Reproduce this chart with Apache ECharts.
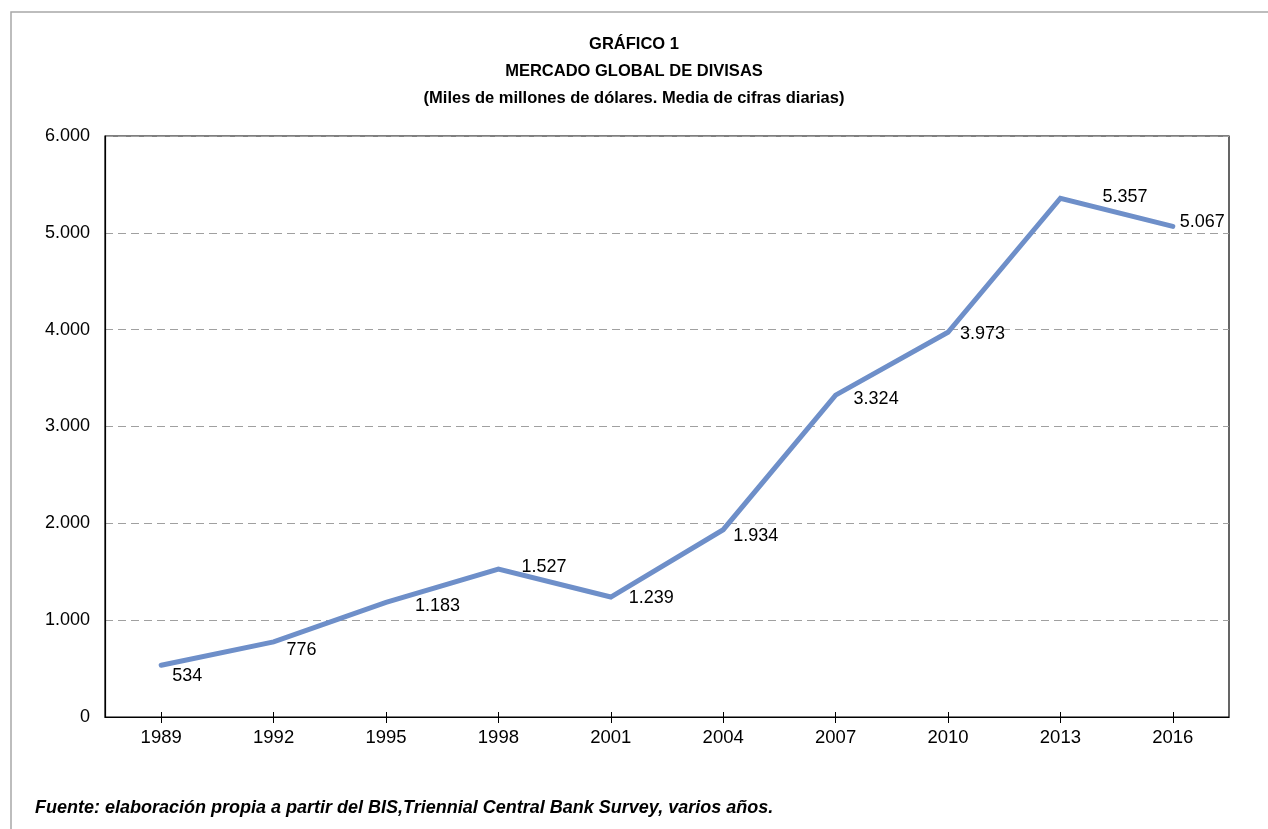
<!DOCTYPE html>
<html>
<head>
<meta charset="utf-8">
<script src="https://cdn.jsdelivr.net/npm/echarts@6/dist/echarts.min.js"></script>
<style>
  html, body { margin: 0; padding: 0; background: #fff; }
  #chart { width: 1268px; height: 829px; }
</style>
</head>
<body>
<div id="chart"></div>
<script>
// Survey years and average daily turnover (miles de millones de dólares)
const years = ['1989', '1992', '1995', '1998', '2001', '2004', '2007', '2010', '2013', '2016'];
const turnover = [534, 776, 1183, 1527, 1239, 1934, 3324, 3973, 5357, 5067];
const yTicks = [0, 1000, 2000, 3000, 4000, 5000, 6000];

// Where each value label starts, relative to its point (left edge, vertical middle)
const labelNudge = [[11, 11], [13, 8], [29, 4], [23, -2], [18, 1], [10, 6], [18, 4], [12, 2], [42, -1], [7, -4]];

const FONT = '"Liberation Sans", Arial, Helvetica, sans-serif';
const fmt = v => String(v).replace(/\B(?=(\d{3})+(?!\d))/g, '.');
const SYM = 2;

const chart = echarts.init(document.getElementById('chart'), null, { renderer: 'canvas' });

chart.setOption({
  animation: false,
  backgroundColor: '#fff',
  textStyle: { fontFamily: FONT, color: '#000' },
  graphic: [
    {
      type: 'rect',
      shape: { x: 11, y: 12, width: 1400, height: 1000 },
      style: { fill: 'none', stroke: '#a8a8a8', lineWidth: 1.5 },
      silent: true, z: -1
    },
    {
      type: 'text', left: 'center', top: 36,
      style: { text: 'GRÁFICO 1', font: 'bold 16.5px ' + FONT, fill: '#000' }
    },
    {
      type: 'text', left: 'center', top: 63,
      style: { text: 'MERCADO GLOBAL DE DIVISAS', font: 'bold 16.5px ' + FONT, fill: '#000' }
    },
    {
      type: 'text', left: 'center', top: 90,
      style: { text: '(Miles de millones de dólares. Media de cifras diarias)', font: 'bold 16.5px ' + FONT, fill: '#000' }
    },
    {
      type: 'text', left: 35, top: 799,
      style: { text: 'Fuente: elaboración propia a partir del BIS,Triennial Central Bank Survey, varios años.', font: 'italic bold 18px ' + FONT, fill: '#000' }
    }
  ],
  grid: {
    left: 105, right: 39, top: 136, bottom: 112,
    show: true, borderColor: '#000', borderWidth: 1.2, backgroundColor: 'transparent'
  },
  xAxis: [
    {
      type: 'category',
      data: years,
      boundaryGap: true,
      axisLine: { show: true, lineStyle: { color: '#000', width: 1.2 } },
      axisTick: { show: true, alignWithLabel: true, length: 6, lineStyle: { color: '#000', width: 1 } },
      axisLabel: { fontSize: 18.5, color: '#000', margin: 11, fontFamily: FONT },
      splitLine: { show: false }
    },
    {
      // inner half of the cross ticks
      type: 'category',
      data: years,
      position: 'bottom',
      boundaryGap: true,
      axisLine: { show: false },
      axisTick: { show: true, inside: true, alignWithLabel: true, length: 5, lineStyle: { color: '#000', width: 1 } },
      axisLabel: { show: false },
      splitLine: { show: false }
    }
  ],
  yAxis: {
    type: 'value',
    min: yTicks[0],
    max: yTicks[yTicks.length - 1],
    interval: 1000,
    axisLine: { show: true, lineStyle: { color: '#000', width: 1.2 } },
    axisTick: { show: false },
    axisLabel: {
      fontSize: 18, color: '#000', margin: 15, fontFamily: FONT,
      padding: [6, 0, 0, 0],
      formatter: v => fmt(v)
    },
    splitLine: { show: true, lineStyle: { color: '#a0a0a0', type: [8, 5], width: 1 } }
  },
  series: [
    {
      type: 'line',
      data: turnover.map((v, i) => ({
        value: v,
        label: {
          position: [labelNudge[i][0] + SYM / 2, labelNudge[i][1] + SYM / 2]
        }
      })),
      symbol: 'circle',
      symbolSize: SYM,
      showSymbol: true,
      showAllSymbol: true,
      lineStyle: { color: '#6E8FC9', width: 5, cap: 'round', join: 'miter' },
      itemStyle: { color: 'rgba(110,143,201,0)', borderWidth: 0 },
      label: {
        show: true,
        align: 'left',
        verticalAlign: 'middle',
        fontSize: 18,
        color: '#000',
        fontFamily: FONT,
        formatter: p => fmt(p.value)
      },
      labelLayout: { hideOverlap: false },
      z: 3
    }
  ]
});
</script>
</body>
</html>
